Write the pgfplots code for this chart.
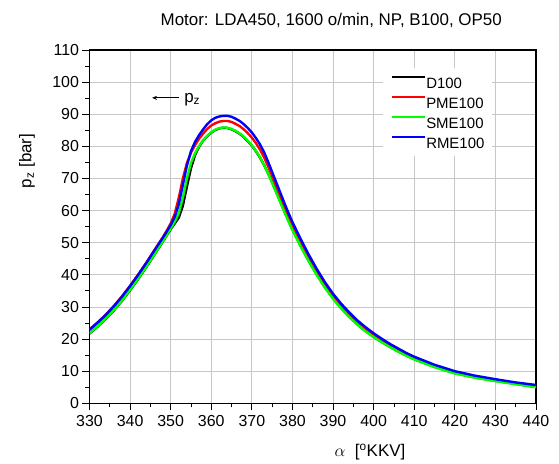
\documentclass[border=0pt]{standalone}
\usepackage{fontspec}
\setmainfont{Liberation Sans}
\usepackage{pgfplots}
\pgfplotsset{compat=1.18}
\usetikzlibrary{arrows.meta}
\definecolor{oGreen}{RGB}{0,255,0}
\definecolor{oRed}{RGB}{255,0,0}
\definecolor{oBlue}{RGB}{0,0,255}
\begin{document}
\begin{tikzpicture}
\path[use as bounding box] (0bp,0bp) rectangle (559bp,464bp);
\begin{axis}[
  at={(89.5bp,60.7bp)}, anchor=south west,
  scale only axis, width=446.5bp, height=353.3bp,
  xmin=330, xmax=440, ymin=0, ymax=110,
  xtick={330,340,...,440}, ytick={0,10,...,110},
  minor x tick num=1, minor y tick num=1,
  xtick pos=bottom, ytick pos=left,
  tick align=outside, major tick length=7bp, minor tick length=4bp,
  tick style={black, line width=0.8bp},
  axis line style={line width=1.1bp},
  grid=major, major grid style={black!22, line width=0.8bp},
  ticklabel style={font=\fontsize{16}{18}\selectfont},
  xticklabel style={yshift=-2bp},
  /pgf/number format/assume math mode=true,
  legend style={at={(0.657,0.949)}, anchor=north west, draw=none, fill=white,
    inner sep=8bp, font=\fontsize{15}{17}\selectfont, row sep=8bp,
    nodes={inner sep=0pt, text height=11bp, text depth=0pt},
    /tikz/every even column/.append style={column sep=5bp}},
  legend cell align=left,
  legend image code/.code={\draw[#1, line width=2.2bp] (0bp,5.4bp) -- (33bp,5.4bp);},
  every axis plot/.append style={line width=2.4bp, line join=round},
]
\addplot[black] coordinates {(330,21.7)(332,23.9)(334,26.3)(336,28.9)(338,31.9)(340,35.2)(342,38.7)(344,42.4)(346,46.3)(348,50.2)(349,52.2)(350,54.2)(351,56.0)(352,57.8)(353,61.5)(354,67.5)(355,73.2)(356,77.3)(357,79.9)(358,81.8)(359,83.2)(360,84.3)(361,85.1)(362,85.6)(363,85.8)(364,85.7)(365,85.3)(366,84.7)(367,83.9)(368,82.9)(369,81.6)(370,80.2)(371,78.5)(372,76.5)(373,74.2)(374,71.6)(375,68.8)(376,65.8)(377,62.8)(378,59.8)(379,56.9)(380,54.1)(382,49.1)(384,44.4)(386,40.1)(388,36.2)(390,32.7)(392,29.7)(394,27.0)(396,24.6)(398,22.5)(400,20.7)(402,19.1)(404,17.6)(406,16.2)(408,14.95)(410,13.75)(415,11.35)(420,9.4)(425,8.05)(430,7.0)(435,6.05)(440,5.1)};
\addlegendentry{D100}
\addplot[oRed] coordinates {(330,23.0)(332,25.2)(334,27.6)(336,30.3)(338,33.3)(340,36.6)(342,40.1)(344,43.8)(346,47.7)(348,51.6)(349,53.7)(350,56.0)(351,59.0)(352,64.0)(353,70.0)(354,74.8)(355,78.0)(356,80.4)(357,82.4)(358,84.0)(359,85.4)(360,86.5)(361,87.2)(362,87.7)(363,87.9)(364,87.9)(365,87.6)(366,87.0)(367,86.3)(368,85.3)(369,84.1)(370,82.7)(371,81.0)(372,79.0)(373,76.6)(374,73.8)(375,70.8)(376,67.7)(377,64.6)(378,61.5)(379,58.4)(380,55.5)(382,50.3)(384,45.5)(386,41.1)(388,37.1)(390,33.5)(392,30.4)(394,27.7)(396,25.3)(398,23.2)(400,21.3)(402,19.6)(404,18.1)(406,16.7)(408,15.35)(410,14.1)(415,11.65)(420,9.7)(425,8.3)(430,7.2)(435,6.2)(440,5.4)};
\addlegendentry{PME100}
\addplot[oGreen] coordinates {(330,21.8)(332,24.0)(334,26.4)(336,29.0)(338,32.0)(340,35.3)(342,38.8)(344,42.5)(346,46.4)(348,50.3)(349,52.3)(350,54.4)(351,56.5)(352,59.2)(353,64.0)(354,70.0)(355,74.8)(356,77.9)(357,80.1)(358,81.9)(359,83.3)(360,84.4)(361,85.2)(362,85.7)(363,85.9)(364,85.8)(365,85.4)(366,84.8)(367,84.0)(368,83.0)(369,81.7)(370,80.3)(371,78.6)(372,76.6)(373,74.2)(374,71.5)(375,68.6)(376,65.6)(377,62.6)(378,59.6)(379,56.7)(380,53.9)(382,48.9)(384,44.2)(386,39.9)(388,36.0)(390,32.5)(392,29.5)(394,26.8)(396,24.5)(398,22.4)(400,20.6)(402,19.0)(404,17.5)(406,16.1)(408,14.85)(410,13.65)(415,11.25)(420,9.3)(425,7.95)(430,6.9)(435,5.95)(440,5.0)};
\addlegendentry{SME100}
\addplot[oBlue] coordinates {(330,22.9)(332,25.1)(334,27.5)(336,30.2)(338,33.2)(340,36.5)(342,40.0)(344,43.7)(346,47.6)(348,51.4)(349,53.4)(350,55.5)(351,58.0)(352,62.0)(353,68.0)(354,74.0)(355,78.5)(356,81.4)(357,83.5)(358,85.3)(359,86.9)(360,88.1)(361,88.9)(362,89.3)(363,89.5)(364,89.5)(365,89.2)(366,88.6)(367,87.9)(368,86.9)(369,85.7)(370,84.3)(371,82.6)(372,80.6)(373,78.2)(374,75.2)(375,72.0)(376,68.8)(377,65.6)(378,62.4)(379,59.3)(380,56.4)(382,51.2)(384,46.3)(386,41.8)(388,37.7)(390,34.1)(392,31.0)(394,28.3)(396,25.8)(398,23.7)(400,21.8)(402,20.1)(404,18.5)(406,17.1)(408,15.7)(410,14.5)(415,12.0)(420,10.0)(425,8.6)(430,7.5)(435,6.5)(440,5.7)};
\addlegendentry{RME100}
\draw[-{Stealth[length=5bp,width=4bp]}, line width=0.8bp] (axis cs:352,95.1) -- (axis cs:345.4,95.1);
\node[anchor=west, font=\fontsize{17}{19}\selectfont, inner sep=0pt] at (axis cs:353.3,94.6) {p\textsubscript{z}};
\end{axis}
\node[anchor=east, font=\fontsize{17}{19}\selectfont, inner sep=0pt] at (502bp,444bp) {Motor: LDA450, 1600 o/min, NP, B100, OP50};
\node[rotate=90, font=\fontsize{17}{19}\selectfont, inner sep=0pt] at (27bp,303bp) {p\textsubscript{z} [bar]};
\node[font=\fontsize{17}{19}\selectfont, inner sep=0pt] at (370bp,12bp) {$\alpha$\ \ [\textsuperscript{o}KKV]};
\end{tikzpicture}
\end{document}
